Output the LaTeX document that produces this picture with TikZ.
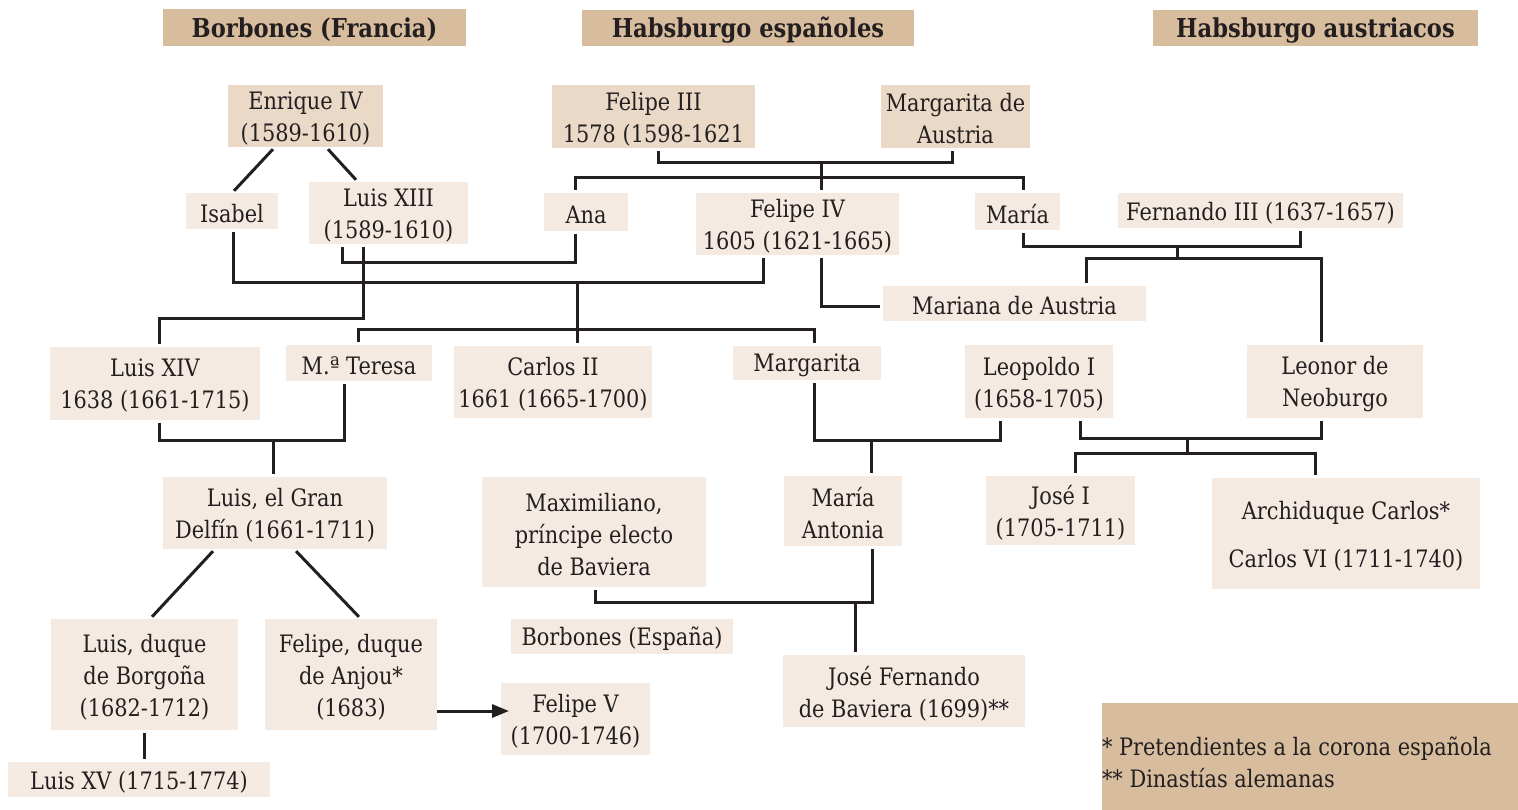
\documentclass[tikz,border=0pt]{standalone}
\usepackage{fontspec}
\setmainfont{DejaVu Serif}[FakeStretch=0.87]
\usetikzlibrary{arrows.meta}
\definecolor{hdr}{HTML}{D8BC9E}
\definecolor{dk}{HTML}{EAD9C6}
\definecolor{lt}{HTML}{F4EAE1}
\definecolor{ln}{HTML}{231F20}
\tikzset{
  box/.style={inner sep=0pt, outer sep=0pt, align=center, text=ln, font=\fontsize{24}{32}\selectfont},
  hdrbox/.style={box, font=\fontsize{26}{30}\selectfont\bfseries},
  conn/.style={draw=ln, line width=3pt},
  gap/.style={shorten <=3pt, shorten >=3pt}
}
% #1 text style, #2..#5 corners, #6 name, #7 fill, #8 text
\newcommand\bx[8][box]{%
  \node[inner sep=0pt,outer sep=0pt,fill=#7,minimum width={(#4-#2)*1pt},minimum height={(#5-#3)*1pt}] (#6) at ({(#2+#4)/2},{(#3+#5)/2}) {};
  \node[#1] (#6-t) at ([yshift=-2.5pt]#6.center) {#8};}
\begin{document}
\begin{tikzpicture}[x=1pt,y=-1pt]
\useasboundingbox (0,0) rectangle (1518,810);
% headers
\bx[hdrbox]{163}{9}{466}{46}{h1}{hdr}{Borbones (Francia)}
\bx[hdrbox]{582}{10}{914}{46}{h2}{hdr}{Habsburgo españoles}
\bx[hdrbox]{1153}{10}{1478}{46}{h3}{hdr}{Habsburgo austriacos}
% dark boxes
\bx{228}{85}{383}{147}{enrique}{dk}{Enrique IV\\(1589-1610)}
\bx{552}{85}{755}{148}{f3}{dk}{Felipe III\\1578 (1598-1621}
\bx{881}{85}{1030}{148}{margA}{dk}{Margarita de\\Austria}
% light boxes
\bx{186}{193}{278}{229}{isabel}{lt}{Isabel}
\bx{309}{182}{468}{244}{l13}{lt}{Luis XIII\\(1589-1610)}
\bx{544}{193}{628}{231}{ana}{lt}{Ana}
\bx{696}{193}{899}{255}{f4}{lt}{Felipe IV\\1605 (1621-1665)}
\bx{975}{193}{1060}{230}{maria}{lt}{María}
\bx{1118}{193}{1403}{228}{fer3}{lt}{Fernando III (1637-1657)}
\bx{883}{286}{1146}{321}{mariana}{lt}{Mariana de Austria}
\bx{50}{347}{260}{420}{l14}{lt}{Luis XIV\\1638 (1661-1715)}
\bx{286}{345}{432}{381}{teresa}{lt}{M.ª Teresa}
\bx{454}{346}{652}{418}{carlos}{lt}{Carlos II\\1661 (1665-1700)}
\bx{733}{346}{881}{380}{margarita}{lt}{Margarita}
\bx{965}{345}{1113}{418}{leop}{lt}{Leopoldo I\\(1658-1705)}
\bx{1247}{345}{1423}{418}{leonor}{lt}{Leonor de\\Neoburgo}
\bx{163}{477}{387}{549}{delfin}{lt}{Luis, el Gran\\Delfín (1661-1711)}
\bx{482}{477}{706}{587}{max}{lt}{Maximiliano,\\príncipe electo\\de Baviera}
\bx{784}{476}{902}{546}{mant}{lt}{María\\Antonia}
\bx{986}{476}{1135}{545}{jose}{lt}{José I\\(1705-1711)}
\bx{1212}{478}{1480}{589}{archi}{lt}{Archiduque Carlos*\\[16pt]Carlos VI (1711-1740)}
\bx{51}{619}{238}{730}{lduque}{lt}{Luis, duque\\de Borgoña\\(1682-1712)}
\bx{265}{619}{437}{730}{fduque}{lt}{Felipe, duque\\de Anjou*\\(1683)}
\bx{511}{619}{733}{654}{bespana}{lt}{Borbones (España)}
\bx{501}{683}{650}{755}{felipeV}{lt}{Felipe V\\(1700-1746)}
\bx{783}{655}{1025}{727}{josef}{lt}{José Fernando\\de Baviera (1699)**}
\bx{8}{762}{270}{797}{lxv}{lt}{Luis XV (1715-1774)}
% legend
\node[inner sep=0pt,outer sep=0pt,fill=hdr,minimum width=416pt,minimum height=107pt] (legend) at (1310,756.5) {};
\node[box, anchor=west, align=left] (legtext) at (1102,762) {* Pretendientes a la corona española\\** Dinastías alemanas};
% connectors
\draw[conn,gap] (275,0 |- enrique.south) -- (232,0 |- isabel.north);
\draw[conn,gap] (326,0 |- enrique.south) -- (358,0 |- l13.north);
\draw[conn,gap] (658,0 |- f3.south) |- (952,163) -- (952,0 |- margA.south);
\draw[conn,shorten >=3pt] (821,163) -- (821,0 |- f4.north);
\draw[conn,gap] (575,0 |- ana.north) |- (1023,178) -- (1023,0 |- maria.north);
\draw[conn,gap] (342,0 |- l13.south) |- (575,263) -- (575,0 |- ana.south);
\draw[conn,gap] (233,0 |- isabel.south) |- (763,283) -- (763,0 |- f4.south);
\draw[conn,shorten >=3pt] (577,283) -- (577,0 |- carlos.north);
\draw[conn,gap] (358,0 |- teresa.north) |- (814,330) -- (814,0 |- margarita.north);
\draw[conn,gap] (363,0 |- l13.south) |- (159,319) -- (159,0 |- l14.north);
\draw[conn,gap] (821,0 |- f4.south) |- (mariana.west |- 0,307);
\draw[conn,gap] (1023,0 |- maria.south) |- (1300,247) -- (1300,0 |- fer3.south);
\draw[conn] (1177,247) -- (1177,259);
\draw[conn,gap] (1086,0 |- mariana.north) |- (1321,259) -- (1321,0 |- leonor.north);
\draw[conn,gap] (159,0 |- l14.south) |- (344,440) -- (344,0 |- teresa.south);
\draw[conn,shorten >=3pt] (273,440) -- (273,0 |- delfin.north);
\draw[conn,gap] (814,0 |- margarita.south) |- (1000,440) -- (1000,0 |- leop.south);
\draw[conn,shorten >=3pt] (871,440) -- (871,0 |- mant.north);
\draw[conn,gap] (1080,0 |- leop.south) |- (1321,438) -- (1321,0 |- leonor.south);
\draw[conn] (1187,438) -- (1187,453);
\draw[conn,gap] (1075,0 |- jose.north) |- (1315,453) -- (1315,0 |- archi.north);
\draw[conn,gap] (595,0 |- max.south) |- (872,602) -- (872,0 |- mant.south);
\draw[conn,shorten >=3pt] (855,602) -- (855,0 |- josef.north);
\draw[conn,gap] (215,0 |- delfin.south) -- (150,0 |- lduque.north);
\draw[conn,gap] (294,0 |- delfin.south) -- (361,0 |- fduque.north);
\draw[conn,gap] (144,0 |- lduque.south) -- (144,0 |- lxv.north);
\draw[conn,-{Triangle[length=17pt,width=13pt]},shorten >=-8pt] (fduque.east |- 0,711) -- (felipeV.west |- 0,711);
\end{tikzpicture}
\end{document}
